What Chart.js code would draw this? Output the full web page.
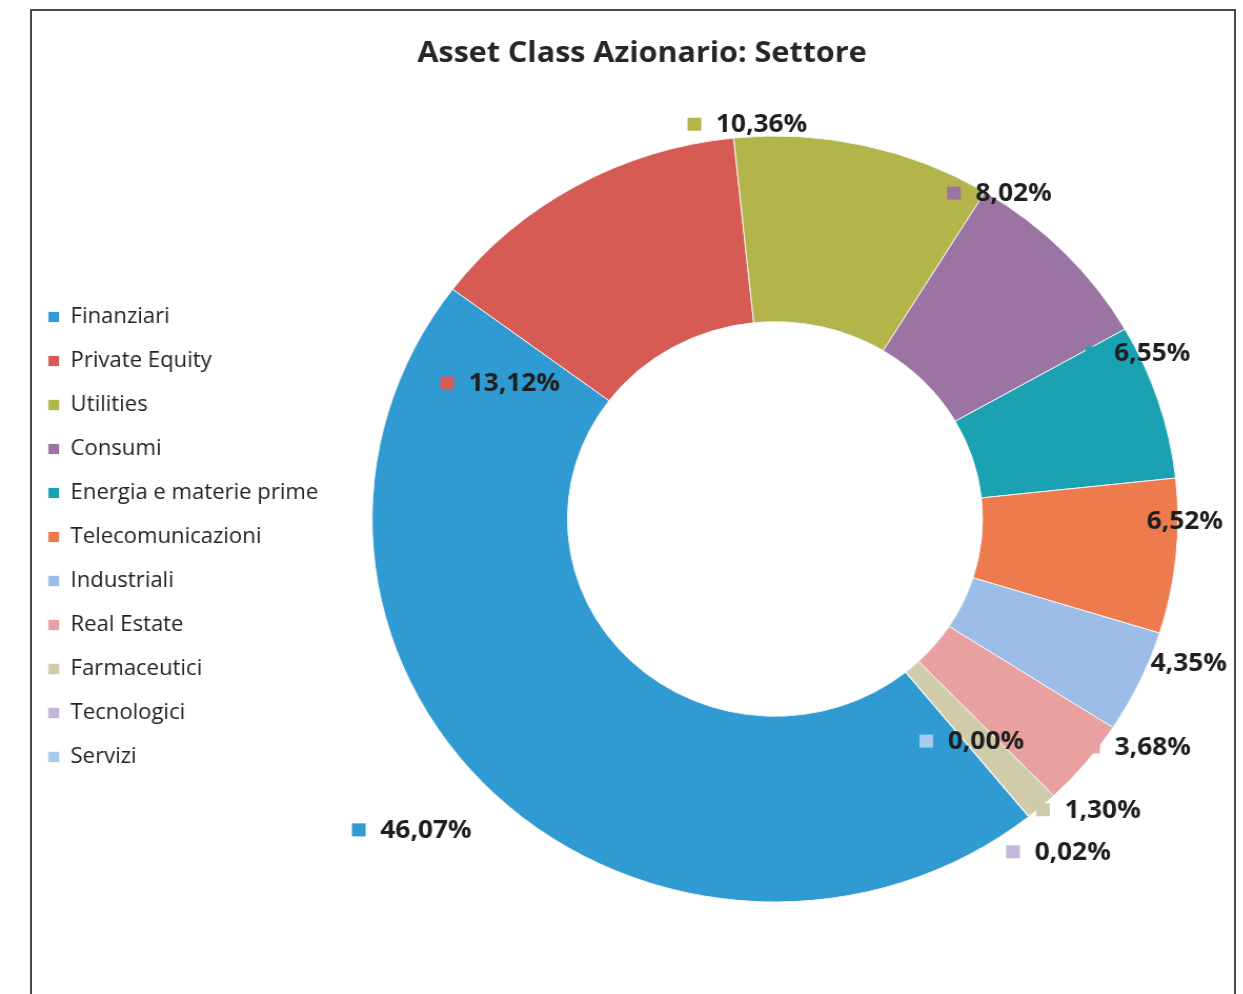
<!DOCTYPE html>
<html lang="it">
<head>
<meta charset="utf-8">
<title>Asset Class Azionario: Settore</title>
<script src="https://cdn.jsdelivr.net/npm/chart.js@4"></script>
<style>
  html, body { margin: 0; padding: 0; background: #ffffff; overflow: hidden; }
  body { width: 1243px; height: 994px; position: relative; }
  #frame {
    position: absolute; left: 30px; top: 9px; width: 1206px; height: 1010px;
    box-sizing: border-box; border: 2px solid #4a4a4a;
  }
  #wrap {
    position: absolute; left: 0; top: 0; width: 1198px; height: 994px;
    transform: scaleX(1.052); transform-origin: 0 0;
  }
</style>
</head>
<body>
<div id="frame"></div>
<div id="wrap"><canvas id="chart"></canvas></div>
<script>
// Sector weights of the equity asset class (%)
const sectors = [
  'Finanziari', 'Private Equity', 'Utilities', 'Consumi', 'Energia e materie prime',
  'Telecomunicazioni', 'Industriali', 'Real Estate', 'Farmaceutici', 'Tecnologici', 'Servizi'
];
const weights = [46.07, 13.12, 10.36, 8.02, 6.55, 6.52, 4.35, 3.68, 1.30, 0.02, 0.00];
const sectorColors = [
  '#2f9bd2', '#d65b55', '#b3b54a', '#9c74a3', '#1aa2b3', '#ed7b4e',
  '#9dbde9', '#e8a0a0', '#cfcbab', '#c3b6da', '#a6cbec'
];
const chartTitle = 'Asset Class Azionario: Settore';

// Where each value label sits: angle in degrees clockwise from 12 o'clock,
// distance as a multiple of the outer radius
const labelAngle = [228.0, 297.5, 356.2, 33.2, 64.3, 90.3, 110.8, 123.4, 134.3, 141.0, 139.9];
const labelDist  = [1.213, 0.769, 1.033, 1.017, 1.000, 0.982, 1.061, 1.081, 1.087, 1.118, 0.758];

// Layout (canvas pixels)
const canvasW = 1198;
const ringCenterX = 736.7;
const ringCenterY = 519;
const ringRadius = 383;
const titlePos = { x: 610.3, y: 54 };
const legendFontSize = 21;
const legendPad = 23;
const legendBox = 11;
const leftPad = 22.6;
const legendBottom = 790.5;

const labelFont = 'bold 25px "Open Sans"';
const keySize = 13;
const keyGap = 14;

// Width the legend column will take, so the ring can be centred where wanted
const probe = document.createElement('canvas').getContext('2d');
probe.font = legendFontSize + 'px "Open Sans"';
const longestLabel = Math.max(...sectors.map(s => probe.measureText(s).width));
const legendWidth = legendPad + legendBox + legendFontSize / 2 + longestLabel + 10;
const rightPad = leftPad + legendWidth + canvasW - 2 * ringCenterX;
const topPad = 2 * ringCenterY - legendBottom;
const bottomPad = 994 - legendBottom;

function formatPct(v) {
  return v.toFixed(2).replace('.', ',') + '%';
}

// Chart heading
const heading = {
  id: 'heading',
  afterDraw(chart) {
    const ctx = chart.ctx;
    ctx.save();
    ctx.font = 'bold 29px "Open Sans"';
    ctx.fillStyle = '#262626';
    ctx.textAlign = 'center';
    ctx.textBaseline = 'middle';
    ctx.fillText(chartTitle, titlePos.x, titlePos.y);
    ctx.restore();
  }
};

// Value labels with a small colour key in front of each percentage
const valueLabels = {
  id: 'valueLabels',
  afterDatasetsDraw(chart) {
    const ctx = chart.ctx;
    const meta = chart.getDatasetMeta(0);
    const ds = chart.data.datasets[0];
    ctx.save();
    ctx.font = labelFont;
    ctx.textBaseline = 'middle';
    ctx.textAlign = 'left';
    meta.data.forEach((arc, i) => {
      const text = formatPct(ds.data[i]);
      const tw = ctx.measureText(text).width;
      const groupW = keySize + keyGap + tw;
      const a = labelAngle[i] * Math.PI / 180;
      const r = labelDist[i] * arc.outerRadius;
      const cx = arc.x + r * Math.sin(a);
      const cy = arc.y - r * Math.cos(a);
      const left = cx - groupW / 2;
      ctx.fillStyle = ds.backgroundColor[i];
      ctx.fillRect(left, cy - keySize / 2, keySize, keySize);
      ctx.fillStyle = '#1e1e1e';
      ctx.fillText(text, left + keySize + keyGap, cy + 1);
    });
    ctx.restore();
  }
};

new Chart(document.getElementById('chart'), {
  type: 'doughnut',
  data: {
    labels: sectors,
    datasets: [{
      data: weights,
      backgroundColor: sectorColors,
      borderColor: '#f4f4f4',
      borderWidth: 1,
      rotation: 141,
      cutout: '51.5%',
      radius: ringRadius,
      clip: false
    }]
  },
  options: {
    responsive: true,
    maintainAspectRatio: false,
    devicePixelRatio: 1,
    animation: false,
    events: [],
    layout: { padding: { left: leftPad, right: rightPad, top: topPad, bottom: bottomPad } },
    plugins: {
      title: { display: false },
      legend: {
        display: true,
        position: 'left',
        align: 'end',
        labels: {
          boxWidth: legendBox,
          boxHeight: legendBox,
          padding: legendPad,
          color: '#222222',
          font: { family: '"Open Sans"', size: legendFontSize }
        }
      },
      tooltip: { enabled: false }
    }
  },
  plugins: [valueLabels, heading]
});
</script>
</body>
</html>
